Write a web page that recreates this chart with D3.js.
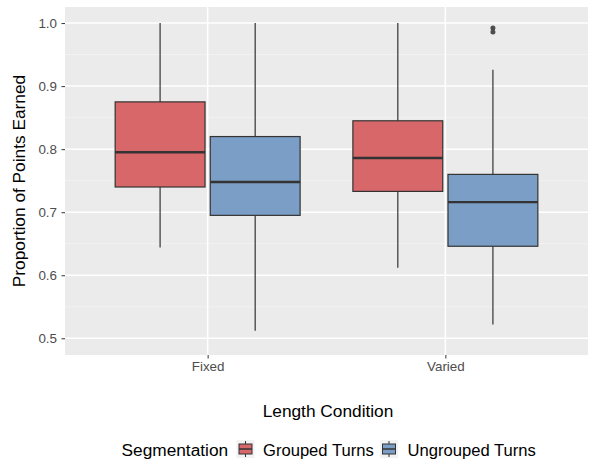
<!DOCTYPE html>
<html>
<head>
<meta charset="utf-8">
<script src="https://cdn.jsdelivr.net/npm/d3@7"></script>
<style>
  body { margin: 0; background: #fff; }
  text { font-family: "Liberation Sans", Arial, sans-serif; }
</style>
</head>
<body>
<svg id="chart"></svg>
<script>
var conditions = ["Fixed", "Varied"];
var segments = ["Grouped Turns", "Ungrouped Turns"];
var yTicks = [0.5, 0.6, 0.7, 0.8, 0.9, 1.0];

// box stats per condition: [Fixed, Varied]
var groupedLow = [0.644, 0.612];
var groupedQ1 = [0.740, 0.733];
var groupedMed = [0.795, 0.786];
var groupedQ3 = [0.875, 0.845];
var groupedHigh = [1.0, 1.0];

var ungroupedLow = [0.512, 0.522];
var ungroupedQ1 = [0.695, 0.646];
var ungroupedMed = [0.748, 0.716];
var ungroupedQ3 = [0.820, 0.760];
var ungroupedHigh = [1.0, 0.926];

var outlierCond = ["Varied", "Varied"];
var outlierSeg = ["Ungrouped Turns", "Ungrouped Turns"];
var outlierVal = [0.992, 0.986];

var colors = ["#d8676a", "#7b9ec6"];

var width = 589, height = 459;
var panel = { left: 65, right: 588, top: 7, bottom: 355 };

var boxes = [];
for (let i = 0; i < conditions.length; i++) {
  boxes.push({ cond: conditions[i], seg: segments[0], low: groupedLow[i], q1: groupedQ1[i], med: groupedMed[i], q3: groupedQ3[i], high: groupedHigh[i] });
  boxes.push({ cond: conditions[i], seg: segments[1], low: ungroupedLow[i], q1: ungroupedQ1[i], med: ungroupedMed[i], q3: ungroupedQ3[i], high: ungroupedHigh[i] });
}
var outliers = outlierVal.map(function (v, i) {
  return { cond: outlierCond[i], seg: outlierSeg[i], v: v };
});

var svg = d3.select("#chart").attr("width", width).attr("height", height);

// ggplot discrete expansion: 0.6 units on each side, 1 unit between categories
var x = d3.scalePoint().domain(conditions).range([panel.left, panel.right]).padding(0.6);
var unit = x.step();
var xSeg = d3.scaleBand().domain(segments).range([-unit * 0.4, unit * 0.4]);
var boxW = unit * 0.378;

var y = d3.scaleLinear().domain([0.4735, 1.0255]).range([panel.bottom, panel.top]);
var minorTicks = d3.range(0.55, 1.0, 0.1);

// panel background
svg.append("rect")
  .attr("x", panel.left).attr("y", panel.top)
  .attr("width", panel.right - panel.left).attr("height", panel.bottom - panel.top)
  .attr("fill", "#ebebeb");

// minor grid
svg.selectAll(".minor").data(minorTicks).enter().append("line")
  .attr("x1", panel.left).attr("x2", panel.right)
  .attr("y1", function (d) { return y(d); }).attr("y2", function (d) { return y(d); })
  .attr("stroke", "#f4f4f4").attr("stroke-width", 0.8);

// major grid
svg.selectAll(".major").data(yTicks).enter().append("line")
  .attr("x1", panel.left).attr("x2", panel.right)
  .attr("y1", function (d) { return y(d); }).attr("y2", function (d) { return y(d); })
  .attr("stroke", "#fff").attr("stroke-width", 1.5);
svg.selectAll(".vmajor").data(conditions).enter().append("line")
  .attr("x1", function (d) { return x(d); }).attr("x2", function (d) { return x(d); })
  .attr("y1", panel.top).attr("y2", panel.bottom)
  .attr("stroke", "#fff").attr("stroke-width", 1.5);

// y axis
var yAxis = d3.axisLeft(y).tickValues(yTicks).tickFormat(d3.format(".1f")).tickSize(3.5).tickPadding(4.5);
var gy = svg.append("g").attr("transform", "translate(" + panel.left + ",0)").call(yAxis);
gy.select(".domain").remove();
gy.selectAll(".tick line").attr("stroke", "#333");
gy.selectAll(".tick text").attr("fill", "#4d4d4d").style("font-size", "13.4px")
  .style("font-family", "Liberation Sans, Arial, sans-serif");

// x axis
var xAxis = d3.axisBottom(x).tickSize(3.5).tickPadding(3);
var gx = svg.append("g").attr("transform", "translate(0," + panel.bottom + ")").call(xAxis);
gx.select(".domain").remove();
gx.selectAll(".tick line").attr("stroke", "#333");
gx.selectAll(".tick text").attr("fill", "#4d4d4d").style("font-size", "13.4px")
  .style("font-family", "Liberation Sans, Arial, sans-serif");

// boxes
var bg = svg.selectAll(".box").data(boxes).enter().append("g")
  .attr("transform", function (d) { return "translate(" + (x(d.cond) + xSeg(d.seg) + xSeg.bandwidth() / 2) + ",0)"; });
bg.append("line")
  .attr("x1", 0).attr("x2", 0)
  .attr("y1", function (d) { return y(d.high); }).attr("y2", function (d) { return y(d.q3); })
  .attr("stroke", "#333").attr("stroke-width", 1.2);
bg.append("line")
  .attr("x1", 0).attr("x2", 0)
  .attr("y1", function (d) { return y(d.q1); }).attr("y2", function (d) { return y(d.low); })
  .attr("stroke", "#333").attr("stroke-width", 1.2);
bg.append("rect")
  .attr("x", -boxW / 2).attr("width", boxW)
  .attr("y", function (d) { return y(d.q3); })
  .attr("height", function (d) { return y(d.q1) - y(d.q3); })
  .attr("fill", function (d) { return colors[segments.indexOf(d.seg)]; })
  .attr("stroke", "#333").attr("stroke-width", 1.2);
bg.append("line")
  .attr("x1", -boxW / 2).attr("x2", boxW / 2)
  .attr("y1", function (d) { return y(d.med); }).attr("y2", function (d) { return y(d.med); })
  .attr("stroke", "#333").attr("stroke-width", 2.4);

// outliers
svg.selectAll(".out").data(outliers).enter().append("circle")
  .attr("cx", function (d) { return x(d.cond) + xSeg(d.seg) + xSeg.bandwidth() / 2; })
  .attr("cy", function (d) { return y(d.v); })
  .attr("r", 2.5)
  .attr("fill", "#4d4d4d");

// axis titles
svg.append("text")
  .attr("x", (panel.left + panel.right) / 2 + 1.5).attr("y", 416.5)
  .attr("text-anchor", "middle").style("font-size", "17.3px").attr("fill", "#000")
  .text("Length Condition");
svg.append("text")
  .attr("transform", "translate(25," + (panel.top + panel.bottom) / 2 + ") rotate(-90)")
  .attr("text-anchor", "middle").style("font-size", "17.3px").attr("fill", "#000")
  .text("Proportion of Points Earned");

// legend
var lg = svg.append("g").attr("transform", "translate(0,456)");
lg.append("text").attr("x", 121.5).attr("y", 0).style("font-size", "17.3px").text("Segmentation");
var keyX = [236.5, 380];
var labX = [263, 407.5];
segments.forEach(function (s, i) {
  var k = lg.append("g").attr("transform", "translate(" + keyX[i] + ",-16)");
  k.append("rect").attr("width", 18).attr("height", 18).attr("fill", "#f2f2f2");
  k.append("line").attr("x1", 9).attr("x2", 9).attr("y1", 1).attr("y2", 17).attr("stroke", "#333").attr("stroke-width", 1);
  k.append("rect").attr("x", 2.5).attr("y", 4).attr("width", 13).attr("height", 10)
    .attr("fill", colors[i]).attr("stroke", "#333").attr("stroke-width", 1);
  k.append("line").attr("x1", 2.5).attr("x2", 15.5).attr("y1", 9).attr("y2", 9).attr("stroke", "#333").attr("stroke-width", 1.5);
  lg.append("text").attr("x", labX[i]).attr("y", 0).style("font-size", "16.6px").text(s);
});
</script>
</body>
</html>
